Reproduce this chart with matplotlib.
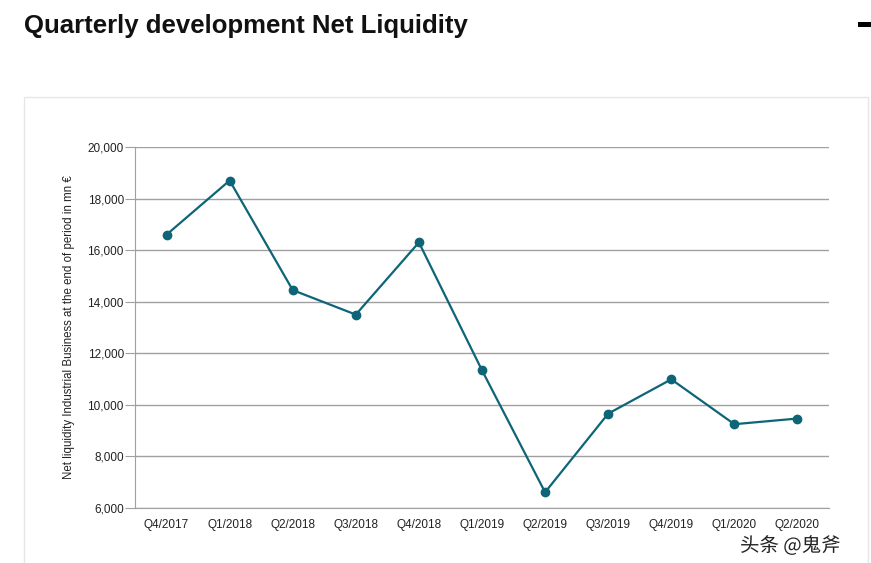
import matplotlib.pyplot as plt
import matplotlib.patheffects as pe
from matplotlib.patches import Rectangle

# Data
quarters = ["Q4/2017", "Q1/2018", "Q2/2018", "Q3/2018", "Q4/2018", "Q1/2019",
            "Q2/2019", "Q3/2019", "Q4/2019", "Q1/2020", "Q2/2020"]
net_liquidity = [16600, 18700, 14450, 13500, 16300, 11340,
                 6610, 9660, 10990, 9250, 9470]
y_ticks = [6000, 8000, 10000, 12000, 14000, 16000, 18000, 20000]

W, H = 871, 563
fig = plt.figure(figsize=(W / 100, H / 100), dpi=100)
fig.patch.set_facecolor("white")

# Title
fig.text(24 / W, 1 - 26 / H, "Quarterly development Net Liquidity",
         fontsize=18.5, fontweight="bold", family=["Liberation Sans", "DejaVu Sans"],
         ha="left", va="center", color="#111111")

# small black mark at the top right
fig.add_artist(Rectangle((858 / W, 1 - 27 / H), 13 / W, 5 / H,
                         transform=fig.transFigure, color="black", lw=0))

# light panel frame
fig.add_artist(Rectangle((24 / W, -0.05), (868 - 24) / W, 1 - 97 / H + 0.05,
                         transform=fig.transFigure, fill=False, ec="#e6e6e6", lw=1))

# plot area
ax = fig.add_axes([135 / W, 1 - 508 / H, (829 - 135) / W, (508 - 147) / H])
x = list(range(len(quarters)))
ax.plot(x, net_liquidity, color="#0e6578", lw=1.6, marker="o", markersize=6,
        zorder=3)

ax.set_xlim(-0.5, len(quarters) - 0.5)
ax.set_ylim(6000, 20000)
ax.set_yticks(y_ticks)
ax.set_yticklabels([f"{v:,}" for v in y_ticks])
ax.set_xticks(x)
ax.set_xticklabels(quarters)

ax.grid(axis="y", color="#a0a0a0", lw=1)
ax.set_axisbelow(True)
for side in ["top", "right"]:
    ax.spines[side].set_visible(False)
ax.spines["left"].set_color("#a0a0a0")
ax.spines["bottom"].set_color("#a0a0a0")

lbl_font = ["Liberation Sans", "DejaVu Sans"]
ax.tick_params(axis="y", length=7, color="#a0a0a0", labelsize=8.5, pad=1,
               labelcolor="#222222")
ax.tick_params(axis="x", length=0, labelsize=8.5, pad=8, labelcolor="#222222")
for t in ax.get_xticklabels() + ax.get_yticklabels():
    t.set_family(lbl_font)

ax.set_ylabel("Net liquidity Industrial Business at the end of period in mn €",
              fontsize=8.3, family=lbl_font, color="#222222", labelpad=9)

# watermark
fig.text(740 / W, 1 - 546 / H, "头条 @鬼斧", fontsize=14,
         family=["Noto Sans CJK SC", "DejaVu Sans"], color="#222222",
         ha="left", va="center",
         path_effects=[pe.withStroke(linewidth=3, foreground="white")])

fig.savefig("out.png", dpi=100)
